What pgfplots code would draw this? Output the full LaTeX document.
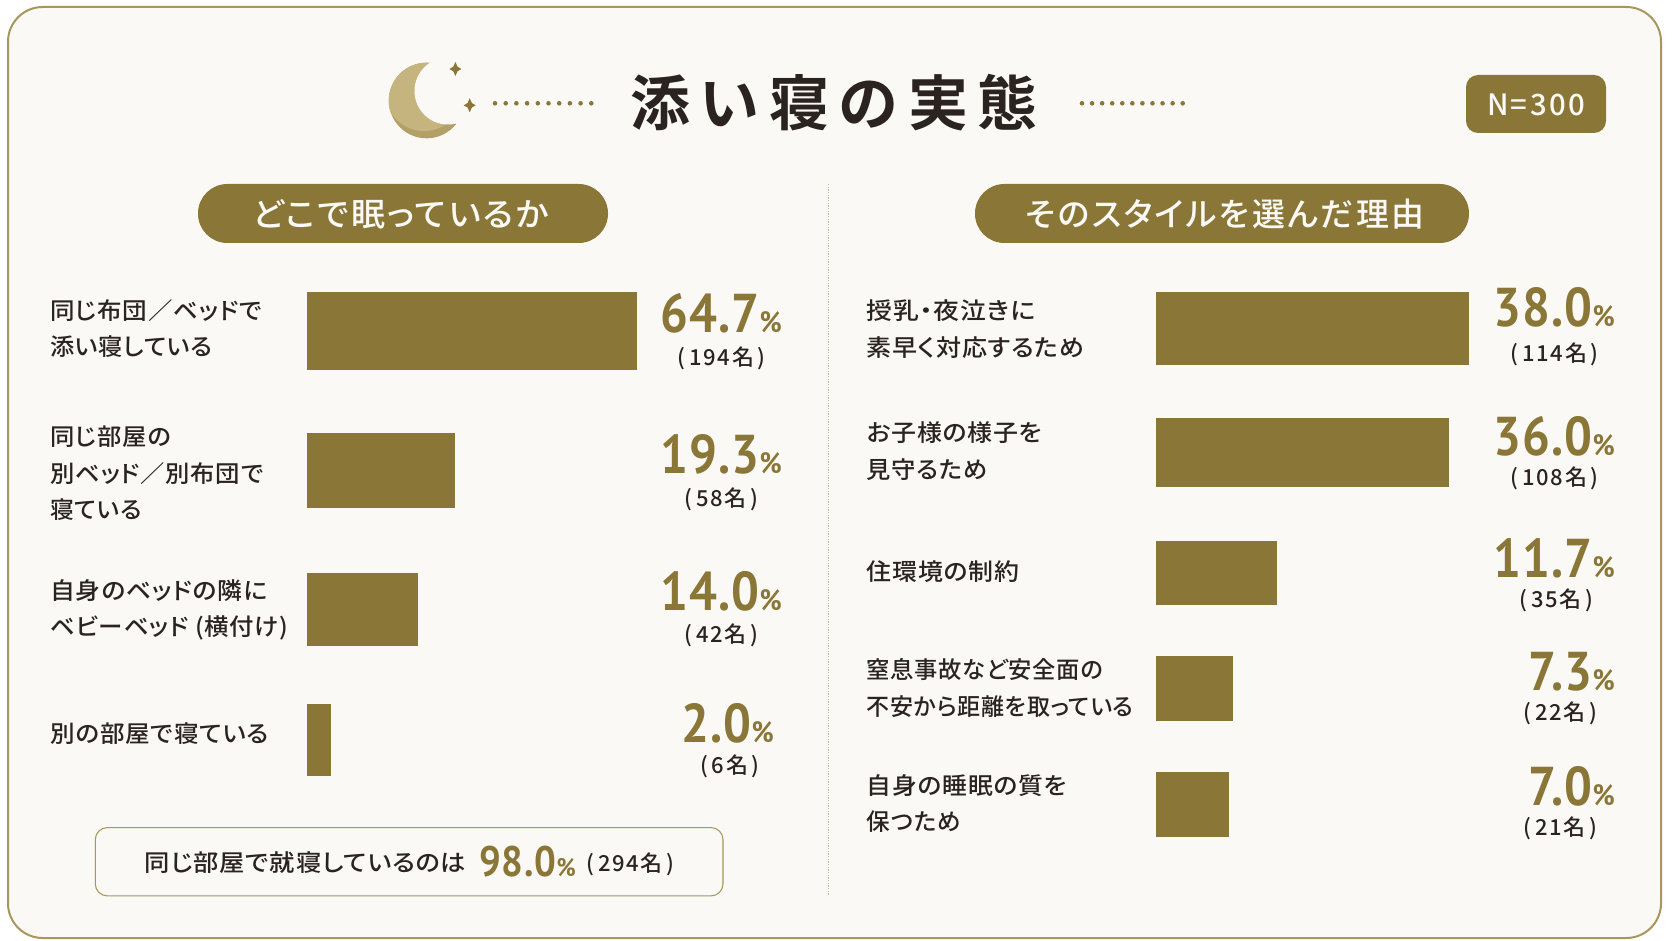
\documentclass[border=0pt]{standalone}
\usepackage{pgfplots}
\pgfplotsset{compat=1.18}
\usepackage{fontspec}
\setmainfont{Noto Sans CJK JP}
\newfontfamily\lab[LetterSpace=3,RawFeature=+palt]{Noto Sans CJK JP Medium}
\newfontfamily\pill[LetterSpace=7,RawFeature=+palt]{Noto Sans CJK JP Medium}
\newfontfamily\ttl[LetterSpace=16]{Noto Sans CJK JP Bold}
\newfontfamily\cnt[LetterSpace=8]{Noto Sans CJK JP Medium}
\newfontfamily\numf[FakeStretch=0.9,LetterSpace=2]{PT Sans Bold}
\definecolor{bar}{HTML}{8A7738}
\definecolor{bg}{HTML}{FAF9F5}
\definecolor{frame}{HTML}{A8965C}
\definecolor{ink}{HTML}{2A2320}
\definecolor{moonA}{HTML}{C6B47E}
\definecolor{moonB}{HTML}{B3A066}
\newcommand{\fs}[1]{\fontsize{#1}{#1}\selectfont}
% 1 px of the reference = 0.75pt
% \lbl{x}{centre y}{width in px}{text}: each line is fitted to the width it has in the reference
\newcommand{\lbl}[4]{\node[anchor=base west,inner sep=0pt,text=ink] at (#1,#2+8.3) {\resizebox{\dimexpr #3pt*3/4\relax}{\height}{\lab\fs{17.6}#4}};}
\newcommand{\cntn}[3]{\node[inner sep=0pt,text=ink] at (#1,#2) {\cnt\fs{16.5}(\,#3\,)};}
\newcommand{\sparkle}[2]{\fill[bar] (#1,#2-7) -- (#1+2.2,#2-2.2) -- (#1+6,#2) -- (#1+2.2,#2+2.2) -- (#1,#2+7) -- (#1-2.2,#2+2.2) -- (#1-6,#2) -- (#1-2.2,#2-2.2) -- cycle;}
\begin{document}
\begin{tikzpicture}[x=0.75pt,y=-0.75pt]
\path[use as bounding box] (0,0) rectangle (1672,941);
\fill[white] (0,0) rectangle (1672,941);
\draw[frame,line width=1.5pt,fill=bg,rounded corners=26pt] (8,7) rectangle (1661,938);
% moon
\begin{scope}
\clip (426.6,100.5) circle (37.8);
\fill[moonB] (426.6,100.5) circle (37.8);
\fill[moonA] (424,92) circle (39);
\end{scope}
\fill[bg] (448,91) circle (33.5);
\sparkle{455.4}{69}
\sparkle{469.7}{105.3}
\foreach \i in {0,...,9} {\fill[bar] (495+\i*10.7,103.3) circle (2.3);}
\foreach \i in {0,...,10} {\fill[bar] (1082+\i*10.07,103.3) circle (2.3);}
% title
\node[inner sep=0pt,text=ink] at (834,103) {\ttl\fs{45}添い寝の実態};
% N badge
\fill[bar,rounded corners=9pt] (1466,75) rectangle (1606,133);
\node[inner sep=0pt,text=bg] at (1536,105) {\cnt\fs{22}N=300};
% pills
\fill[bar,rounded corners=22pt] (198,184) rectangle (608,243);
\fill[bar,rounded corners=22pt] (975,184) rectangle (1469,243);
\node[inner sep=0pt,text=bg] at (401,214) {\resizebox{222pt}{\height}{\pill\fs{24.5}どこで眠っているか}};
\node[inner sep=0pt,text=bg] at (1225,214) {\resizebox{299pt}{\height}{\pill\fs{24.5}そのスタイルを選んだ理由}};
% divider
\draw[frame!70,line width=0.6pt,dash pattern=on 1pt off 1pt] (828,184) -- (828,896);
% left panel: x = drawn bar length in reference px (the reference's bars are not proportional to their printed shares), y = bar centre in px
\begin{axis}[at={(307,790)},anchor=south west,scale only axis,width=255pt,height=379.5pt,
  xmin=0,xmax=340,ymin=284,ymax=790,y dir=reverse,hide axis,clip=false]
\addplot[xbar,bar shift=0pt,bar width=58.75pt,fill=bar,draw=none] coordinates {(330.4,331.0)};
\addplot[xbar,bar shift=0pt,bar width=56.2pt,fill=bar,draw=none] coordinates {(148.3,470.9)};
\addplot[xbar,bar shift=0pt,bar width=54.9pt,fill=bar,draw=none] coordinates {(111.2,609.2)};
\addplot[xbar,bar shift=0pt,bar width=53.6pt,fill=bar,draw=none] coordinates {(23.9,740.1)};
\end{axis}
% right panel
\begin{axis}[at={(1156,845)},anchor=south west,scale only axis,width=240pt,height=420.75pt,
  xmin=0,xmax=320,ymin=284,ymax=845,y dir=reverse,hide axis,clip=false]
\addplot[xbar,bar shift=0pt,bar width=54.6pt,fill=bar,draw=none] coordinates {(313,328.2)};
\addplot[xbar,bar shift=0pt,bar width=51.9pt,fill=bar,draw=none] coordinates {(292.7,452.7)};
\addplot[xbar,bar shift=0pt,bar width=48.1pt,fill=bar,draw=none] coordinates {(120.8,572.6)};
\addplot[xbar,bar shift=0pt,bar width=48.7pt,fill=bar,draw=none] coordinates {(77.3,688.1)};
\addplot[xbar,bar shift=0pt,bar width=49.4pt,fill=bar,draw=none] coordinates {(73,804.5)};
\end{axis}
% left labels
\lbl{50}{311.5}{211.7}{同じ布団／ベッドで}
\lbl{50}{347.7}{162.5}{添い寝している}
\lbl{50}{437.3}{120.7}{同じ部屋の}
\lbl{50}{473.7}{213.3}{別ベッド／別布団で}
\lbl{50}{510.1}{91.6}{寝ている}
\lbl{50}{590.9}{217}{自身のベッドの隣に}
\lbl{50}{627.3}{238}{ベビーベッド (横付け)}
\lbl{50}{734.3}{218.6}{別の部屋で寝ている}
% right labels
\lbl{866.5}{311.5}{168.6}{授乳・夜泣きに}
\lbl{866.5}{347.8}{217.5}{素早く対応するため}
\lbl{866.5}{433.5}{175.6}{お子様の様子を}
\lbl{866.5}{469.8}{120.8}{見守るため}
\lbl{866.5}{572.6}{152.5}{住環境の制約}
\lbl{866.5}{670.2}{236.3}{窒息事故など安全面の}
\lbl{866.5}{706.9}{266.9}{不安から距離を取っている}
\lbl{866.5}{785.7}{199.8}{自身の睡眠の質を}
\lbl{866.5}{822.1}{94}{保つため}
% left values
\node[anchor=base east,inner sep=0pt,text=bar] at (782,332.1) {\numf\fs{41}64.7\fs{22}\%};
\node[anchor=base east,inner sep=0pt,text=bar] at (782,473.3) {\numf\fs{41}19.3\fs{22}\%};
\node[anchor=base east,inner sep=0pt,text=bar] at (782,610.9) {\numf\fs{41}14.0\fs{22}\%};
\node[anchor=base east,inner sep=0pt,text=bar] at (774,742.1) {\numf\fs{41}2.0\fs{22}\%};
\cntn{721.6}{358.6}{194名}
\cntn{721.5}{498.9}{58名}
\cntn{721.5}{635.8}{42名}
\cntn{730}{766.3}{6名}
% right values
\node[anchor=base east,inner sep=0pt,text=bar] at (1615,326.8) {\numf\fs{41}38.0\fs{22}\%};
\node[anchor=base east,inner sep=0pt,text=bar] at (1615,455.4) {\numf\fs{41}36.0\fs{22}\%};
\node[anchor=base east,inner sep=0pt,text=bar] at (1615,577.3) {\numf\fs{41}11.7\fs{22}\%};
\node[anchor=base east,inner sep=0pt,text=bar] at (1615,690.6) {\numf\fs{41}7.3\fs{22}\%};
\node[anchor=base east,inner sep=0pt,text=bar] at (1615,805) {\numf\fs{41}7.0\fs{22}\%};
\cntn{1554.6}{354.3}{114名}
\cntn{1554.6}{478.4}{108名}
\cntn{1556.6}{600.4}{35名}
\cntn{1560.4}{713.8}{22名}
\cntn{1560.4}{828.8}{21名}
% note box
\draw[frame,line width=0.8pt,fill=bg,rounded corners=9pt] (95.3,827.6) rectangle (723,895.9);
\lbl{144.5}{863.5}{321.3}{同じ部屋で就寝しているのは}
\node[anchor=base west,inner sep=0pt,text=bar] at (479,876) {\numf\fs{32}98.0\fs{19}\%};
\cntn{630.5}{864}{294名}
\end{tikzpicture}
\end{document}
